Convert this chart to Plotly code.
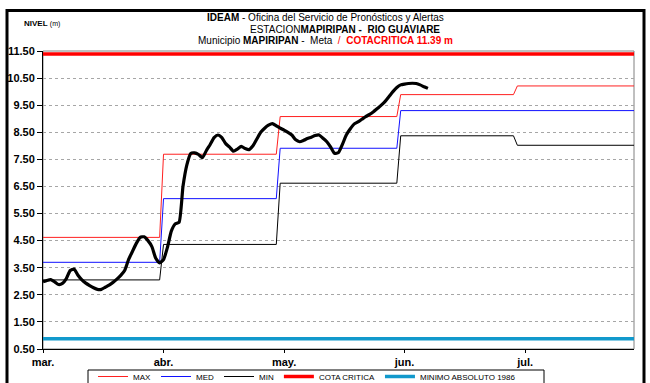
import numpy as np
import plotly.graph_objects as go

# ---- data -------------------------------------------------------------
month_labels = ["mar.", "abr.", "may.", "jun.", "jul."]
month_days = [31, 30, 31, 30, 31]          # days in Mar..Jul
tick_days = [0, 31, 62, 93, 124]           # category ticks every 31 days

# historic monthly levels (m)
max_month = [4.62, 7.69, 9.08, 9.89, 10.21]
med_month = [3.70, 6.05, 7.91, 9.30, 9.30]
min_month = [3.05, 4.36, 6.62, 8.37, 8.02]

cota_critica = 11.39
minimo_absoluto = 0.88

# observed daily level since 1 March (m)
observed = [
    2.98, 3.03, 3.06, 2.98, 2.88, 2.92, 3.10, 3.40, 3.45, 3.22,
    3.05, 2.93, 2.84, 2.76, 2.70, 2.70, 2.78, 2.86, 2.96, 3.08,
    3.22, 3.40, 3.80, 4.10, 4.40, 4.62, 4.64, 4.50, 4.28, 3.85,
    3.68, 3.80, 4.25, 4.85, 5.12, 5.18, 6.50, 7.30, 7.72, 7.74,
    7.68, 7.56, 7.82, 8.05, 8.30, 8.40, 8.30, 8.08, 7.95, 7.80,
    7.88, 7.98, 7.90, 7.86, 8.00, 8.25, 8.50, 8.65, 8.76, 8.82,
    8.74, 8.65, 8.58, 8.50, 8.40, 8.22, 8.15, 8.20, 8.27, 8.32,
    8.38, 8.40, 8.28, 8.15, 7.95, 7.72, 7.75, 8.05, 8.40, 8.62,
    8.80, 8.88, 8.98, 9.08, 9.16, 9.26, 9.38, 9.50, 9.64, 9.82,
    10.00, 10.15, 10.25, 10.28, 10.30, 10.31, 10.30, 10.25, 10.18, 10.12,
]

# ---- derived daily series --------------------------------------------
n_days = sum(month_days)
days = np.arange(n_days)
max_daily = np.repeat(max_month, month_days)
med_daily = np.repeat(med_month, month_days)
min_daily = np.repeat(min_month, month_days)
obs_days = np.arange(len(observed))
x_end = n_days - 1

FONT = "Liberation Sans, Arial, sans-serif"

fig = go.Figure()
fig.add_trace(go.Scatter(x=days, y=max_daily, mode="lines", name="MAX",
                         line=dict(color="#ff2020", width=1)))
fig.add_trace(go.Scatter(x=days, y=med_daily, mode="lines", name="MED",
                         line=dict(color="#1010ff", width=1)))
fig.add_trace(go.Scatter(x=days, y=min_daily, mode="lines", name="MIN",
                         line=dict(color="#000000", width=1)))
fig.add_trace(go.Scatter(x=[0, x_end], y=[cota_critica, cota_critica], mode="lines",
                         name="COTA CRITICA", line=dict(color="#ff0000", width=3.5)))
fig.add_trace(go.Scatter(x=[0, x_end], y=[minimo_absoluto, minimo_absoluto], mode="lines",
                         name="MINIMO ABSOLUTO 1986", line=dict(color="#1199cc", width=3.5)))
fig.add_trace(go.Scatter(x=obs_days, y=observed, mode="lines", name="NIVEL",
                         showlegend=False,
                         line=dict(color="#000000", width=3.2, shape="spline", smoothing=0.5)))

# plot area geometry (px)
L, R, T, B = 43, 16, 51, 34
W, H = 650, 383
pw, ph = W - L - R, H - T - B


def px_x(x):
    return (x - L) / pw


def px_y(y):
    return (H - B - y) / ph


shapes = [
    # grey frame of the plotting area
    dict(type="rect", xref="paper", yref="paper", x0=0, x1=1, y0=0, y1=1,
         line=dict(color="#808080", width=1), layer="below"),
    # black outer frame of the chart
    dict(type="rect", xref="paper", yref="paper",
         x0=px_x(7), x1=px_x(644), y0=px_y(395), y1=px_y(10.5),
         line=dict(color="#000000", width=3)),
    # legend frame
    dict(type="rect", xref="paper", yref="paper",
         x0=px_x(88), x1=px_x(544), y0=px_y(392), y1=px_y(370),
         line=dict(color="#000000", width=1)),
]

annotations = [
    dict(text="<b>IDEAM</b> - Oficina del Servicio de Pronósticos y Alertas",
         x=px_x(325), y=px_y(17), xref="paper", yref="paper", showarrow=False,
         font=dict(family=FONT, size=10, color="#000000"), xanchor="center", yanchor="middle"),
    dict(text="ESTACION<b>MAPIRIPAN -  RIO GUAVIARE</b>",
         x=px_x(345), y=px_y(29), xref="paper", yref="paper", showarrow=False,
         font=dict(family=FONT, size=10, color="#000000"), xanchor="center", yanchor="middle"),
    dict(text="Municipio <b>MAPIRIPAN</b> -  Meta  <span style='color:#ff0000'>/  <b>COTACRITICA 11.39 m</b></span>",
         x=px_x(325), y=px_y(41), xref="paper", yref="paper", showarrow=False,
         font=dict(family=FONT, size=10, color="#000000"), xanchor="center", yanchor="middle"),
    dict(text="<b>NIVEL</b> <span style='font-size:7px'>(m)</span>",
         x=px_x(22), y=px_y(24), xref="paper", yref="paper", showarrow=False,
         font=dict(family=FONT, size=8, color="#000000"), xanchor="left", yanchor="middle"),
]

fig.update_layout(
    width=W, height=H,
    margin=dict(l=L, r=R, t=T, b=B, autoexpand=False),
    paper_bgcolor="#ffffff", plot_bgcolor="#ffffff",
    font=dict(family=FONT, color="#000000"),
    showlegend=True,
    legend=dict(orientation="h", x=px_x(93), y=px_y(362), xanchor="left", yanchor="top",
                borderwidth=0, bgcolor="rgba(0,0,0,0)",
                font=dict(family=FONT, size=8, color="#000000"),
                itemwidth=30, tracegroupgap=0),
    shapes=shapes,
    annotations=annotations,
)

fig.update_xaxes(
    range=[0, x_end], tickmode="array", tickvals=tick_days, ticktext=month_labels,
    showgrid=False, zeroline=False, showline=True, linecolor="#000000", linewidth=1,
    ticks="outside", ticklen=3, tickcolor="#000000",
    tickfont=dict(family=FONT, size=11, weight="bold", color="#000000"),
)
fig.update_yaxes(
    range=[0.5, 11.5], tick0=0.5, dtick=1, tickformat=".2f",
    showgrid=True, gridcolor="#a6a6a6", griddash="dot", gridwidth=1,
    zeroline=False, showline=True, linecolor="#000000", linewidth=1,
    ticks="outside", ticklen=5, tickcolor="#000000",
    tickfont=dict(family=FONT, size=11, weight="bold", color="#000000"),
)

fig.write_html("out.html")
